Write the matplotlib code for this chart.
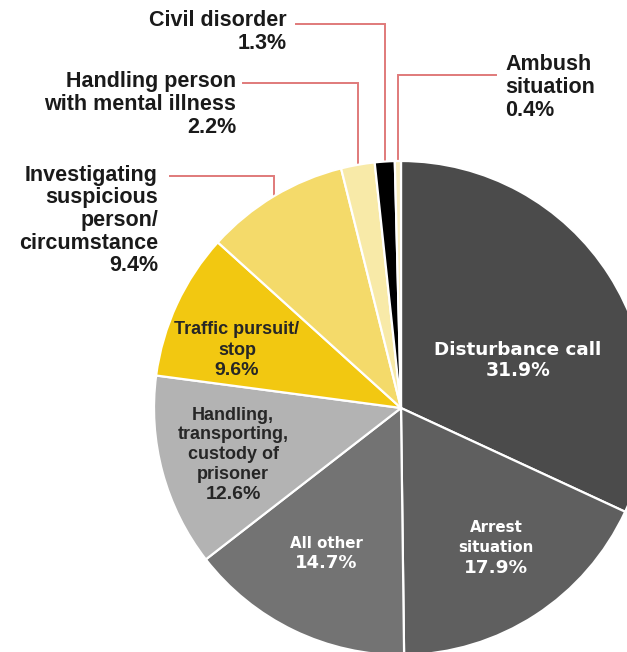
import numpy as np
import matplotlib.pyplot as plt

# share of officer deaths by type of call
categories = ['Disturbance call', 'Arrest situation', 'All other',
              'Handling, transporting, custody of prisoner', 'Traffic pursuit/stop',
              'Investigating suspicious person/circumstance',
              'Handling person with mental illness', 'Civil disorder', 'Ambush situation']
shares = [31.9, 17.9, 14.7, 12.6, 9.6, 9.4, 2.2, 1.3, 0.4]
colors = ['#4b4b4b', '#5f5f5f', '#737373', '#b3b3b3', '#f2c811',
          '#f4da6a', '#f8eaa8', '#000000', '#f9eebf']

# label text, one entry per slice
inside_lines = {
    0: ['Disturbance call'],
    1: ['Arrest', 'situation'],
    2: ['All other'],
    3: ['Handling,', 'transporting,', 'custody of', 'prisoner'],
    4: ['Traffic pursuit/', 'stop'],
}
outside_lines = {
    5: ['Investigating', 'suspicious', 'person/', 'circumstance'],
    6: ['Handling person', 'with mental illness'],
    7: ['Civil disorder'],
    8: ['Ambush', 'situation'],
}

plt.rcParams['font.family'] = ['Liberation Sans', 'DejaVu Sans']

fig = plt.figure(figsize=(6.27, 6.52), dpi=100)
ax = fig.add_axes([0, 0, 1, 1])

cx, cy, R = 401, 408, 247
# y axis points down (pixel-like), so counterclock=True draws clockwise on screen
wedges, _ = ax.pie(shares, colors=colors, startangle=-90, counterclock=True,
                   center=(cx, cy), radius=R,
                   wedgeprops=dict(edgecolor='white', linewidth=1.6))
ax.set_xlim(0, 627)
ax.set_ylim(652, 0)
ax.set_aspect('equal')
ax.axis('off')

# inside labels: centre x, first line y, line step, colour, font, sizes
inside_style = {
    0: dict(x=518, y=350, step=20.5, c='white', fam='DejaVu Sans', fs=13.2, pfs=13.5),
    1: dict(x=496, y=527, step=20.5, c='white', fam='DejaVu Sans', fs=10.8, pfs=13.3),
    2: dict(x=326, y=543, step=20.5, c='white', fam='DejaVu Sans', fs=10.8, pfs=13.0),
    3: dict(x=233, y=415, step=19.8, c='#262626', fam='Liberation Sans', fs=13, pfs=14),
    4: dict(x=237, y=330, step=20.3, c='#262626', fam='Liberation Sans', fs=13, pfs=14),
}

for i, lines in inside_lines.items():
    s = inside_style[i]
    for k, t in enumerate(lines):
        ax.text(s['x'], s['y'] + s['step'] * k, t, ha='center', va='center',
                color=s['c'], fontsize=s['fs'], fontweight='bold', family=s['fam'])
    ax.text(s['x'], s['y'] + s['step'] * len(lines), f'{shares[i]}%', ha='center',
            va='center', color=s['c'], fontsize=s['pfs'], fontweight='bold',
            family=s['fam'])

# outside labels: text anchor, side, leader elbow height, horizontal end
outside_layout = {
    5: dict(tx=158, ty=175, ha='right', ly=176, lx=170),
    6: dict(tx=236, ty=82, ha='right', ly=83, lx=243),
    7: dict(tx=287, ty=21, ha='right', ly=24, lx=296),
    8: dict(tx=505, ty=65, ha='left', ly=75, lx=496),
}
cum = np.cumsum([0] + shares[:-1])
for i, lines in outside_lines.items():
    L = outside_layout[i]
    theta = np.deg2rad(360 * (cum[i] + shares[i] / 2) / 100)
    px = cx + R * np.sin(theta)
    py = cy - R * np.cos(theta)
    ax.plot([px, px, L['lx']], [py, L['ly'], L['ly']], color='#e07a7a', lw=1.4,
            solid_joinstyle='miter', zorder=0)
    for k, t in enumerate(lines + [f'{shares[i]}%']):
        ax.text(L['tx'], L['ty'] + 22.7 * k, t, ha=L['ha'], va='center',
                color='#1a1a1a', fontsize=15.5, fontweight='bold')

fig.savefig('out.png', dpi=100)
